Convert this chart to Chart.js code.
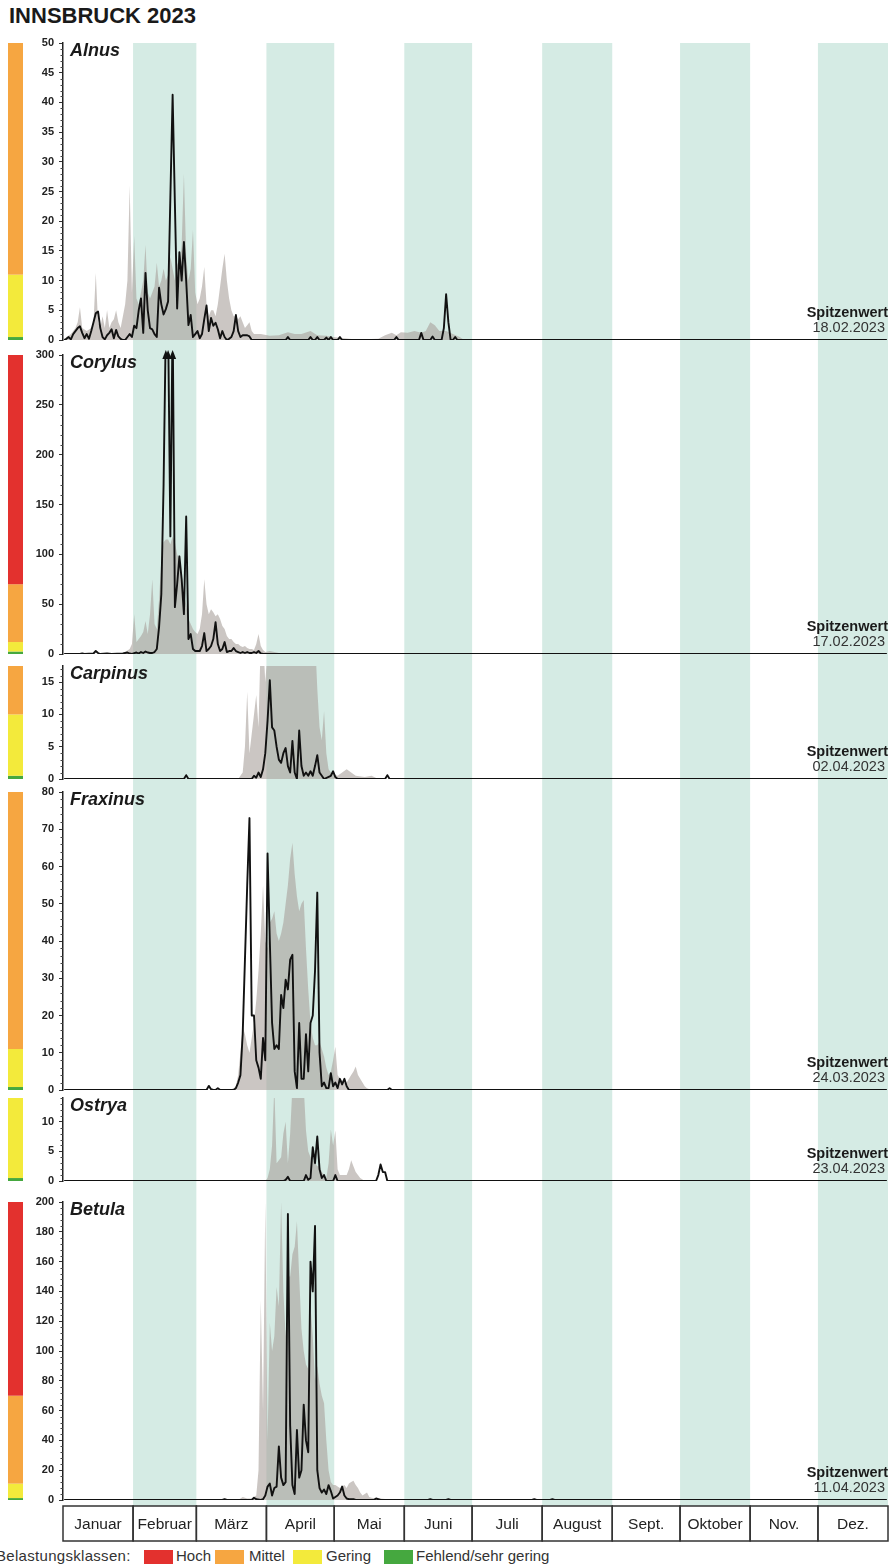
<!DOCTYPE html>
<html>
<head>
<meta charset="utf-8">
<script src="https://cdn.jsdelivr.net/npm/chart.js@4.4.0/dist/chart.umd.min.js"></script>
<style>
  body { margin: 0; width: 893px; height: 1567px; position: relative; overflow: hidden; background: #fff;
         font-family: "Liberation Sans", Arial, sans-serif; }
  #title { position: absolute; left: 9px; top: 3px; font-size: 22px; font-weight: bold; color: #1a1a1a; }
  canvas { position: absolute; left: 0; }
  .lg { position: absolute; top: 1547px; font-size: 15px; color: #333; white-space: nowrap; }
  .sw { position: absolute; top: 1550px; width: 29px; height: 14px; }
</style>
</head>
<body>
<div id="title">INNSBRUCK 2023</div>

<div class="lg" style="left:-4px;letter-spacing:0.3px">Belastungsklassen:</div>
<div class="sw" style="left:144px;background:#e3312e"></div><div class="lg" style="left:176px">Hoch</div>
<div class="sw" style="left:215px;background:#f6a641"></div><div class="lg" style="left:249px">Mittel</div>
<div class="sw" style="left:293px;background:#f3ea3b"></div><div class="lg" style="left:326px">Gering</div>
<div class="sw" style="left:384px;background:#45a83f"></div><div class="lg" style="left:416px">Fehlend/sehr gering</div>

<script>
// x = day of year 2023, y = pollen per m³ (daily mean)
const months = ['Januar', 'Februar', 'März', 'April', 'Mai', 'Juni', 'Juli', 'August', 'Sept.', 'Oktober', 'Nov.', 'Dez.'];
const monthStartDay = [1, 32, 60, 91, 121, 152, 182, 213, 244, 274, 305, 335];
const species = ['Alnus', 'Corylus', 'Carpinus', 'Fraxinus', 'Ostrya', 'Betula'];
const peakDates = ['18.02.2023', '17.02.2023', '02.04.2023', '24.03.2023', '23.04.2023', '11.04.2023'];
const yMax = [50, 300, 17.5, 80, 14, 200];
const yStep = [5, 50, 5, 10, 5, 20];
const yMinorStep = [1, 10, 1, 2, 1, 4];
// upper limits of the classes Fehlend, Gering, Mittel, Hoch
const classLimits = [
  [0.5, 11, 50, 50],
  [2.5, 12, 70, 300],
  [0.5, 10, 17.5, 17.5],
  [0.8, 11, 80, 80],
  [0.5, 14, 14, 14],
  [1.3, 11, 70, 200]
];
const classColors = ['#45a83f', '#f3ea3b', '#f6a641', '#e3312e'];

// 2023 (black line)
const alnus2023 = [[1,0],[2,0.2],[3,0.5],[4,0.1],[5,1],[6,1.5],[7,2],[8,2.3],[9,1.2],[10,0.3],[11,1],[12,0.2],[13,1.5],[14,3],[15,4.5],[16,4.8],[17,2],[18,0.5],[19,0.1],[20,0.8],[21,1.2],[22,1.8],[23,0.3],[24,1.7],[25,0.6],[26,0.2],[27,0],[28,0],[29,0.5],[30,1],[31,0.5],[32,2.4],[33,2],[34,5],[35,7],[36,1.2],[37,11.3],[38,5],[39,2],[40,1.8],[41,1],[42,0.5],[43,8.8],[44,6],[45,4.3],[46,5.2],[47,6.5],[48,24],[49,41.3],[50,23],[51,5.3],[52,14.8],[53,10],[54,16.5],[55,10],[56,2.5],[57,4.2],[58,0.5],[59,1],[60,1.5],[61,0.3],[62,1],[63,3.5],[64,5.8],[65,1.5],[66,3.7],[67,2.4],[68,2.9],[69,1.8],[70,0.3],[71,1.5],[72,0.5],[73,0],[74,0.2],[75,0.5],[76,1.5],[77,4.2],[78,1.5],[79,0.5],[80,0.8],[81,0.8],[82,0.8],[83,0.6],[84,0],[99,0],[100,0.5],[101,0],[109,0],[110,0.5],[111,0],[112,0],[113,0.5],[114,0],[116,0],[117,0.4],[118,0],[119,0.5],[120,0],[122,0],[123,0.5],[124,0],[147,0],[148,0.5],[149,0],[158,0],[159,1.2],[160,0],[163,0],[164,0.6],[165,0],[168,0],[169,2],[170,7.7],[171,3],[172,0],[173,0],[174,0.5],[175,0],[365,0]];
const corylus2023 = [[1,0],[8,0],[9,0.5],[10,0],[14,0.5],[15,3],[16,1],[17,0],[20,0.5],[22,0],[27,0.5],[29,1.5],[30,0.5],[31,0],[33,1.5],[34,0.5],[35,2],[36,1],[37,2.5],[38,1.5],[39,1],[40,1],[41,2],[42,5],[43,27],[44,60],[45,170],[46,330],[47,330],[48,118],[49,340],[50,47],[51,70],[52,98],[53,75],[54,40],[55,138],[56,15],[57,20],[58,5],[59,3],[60,3],[61,3],[62,8],[63,21],[64,3],[65,5],[66,8],[67,15],[68,32],[69,10],[70,3],[71,5],[72,12],[73,2],[74,3],[75,3],[76,6],[77,3],[78,2],[79,1],[80,2],[81,1],[82,2],[83,1],[84,1],[85,2],[86,1],[87,3],[88,0.5],[89,0],[365,0]];
const carpinus2023 = [[1,0],[54,0],[55,0.6],[56,0],[84,0],[85,0.5],[86,0.2],[87,1],[88,0.3],[89,1.5],[90,4],[91,9],[92,15.3],[93,8],[94,7.5],[95,5],[96,3],[97,2.5],[98,4],[99,4.8],[100,2],[101,1],[102,5.9],[103,1],[104,0],[105,7.5],[106,2],[107,0.5],[108,1],[109,0.5],[110,1.2],[111,0.5],[112,2],[113,3.7],[114,1],[115,0.5],[116,0],[119,0.5],[120,1.2],[121,0.3],[122,0],[143,0],[144,0.6],[145,0],[365,0]];
const fraxinus2023 = [[1,0],[64,0],[65,1.1],[66,0.2],[67,0],[68,0],[69,0.5],[70,0],[76,0],[77,0.5],[78,2],[79,4],[80,15],[81,35],[82,55],[83,73],[84,20],[85,20],[86,8],[87,6],[88,3],[89,14],[90,8],[91,63.5],[92,40],[93,18],[94,11],[95,12],[96,11],[97,25.5],[98,22],[99,29.6],[100,27],[101,35],[102,36.3],[103,5],[104,0.5],[105,18],[106,3],[107,3],[108,15],[109,5],[110,18],[111,20],[112,32],[113,53],[114,10],[115,1],[116,2],[117,0.5],[118,0.5],[119,4.5],[120,1],[121,2],[122,0.5],[123,3],[124,1.5],[125,3],[126,1],[127,0],[144,0],[145,0.5],[146,0],[365,0]];
const ostrya2023 = [[1,0],[98,0],[99,0.2],[100,0.7],[101,0],[107,0],[108,1],[109,0.2],[110,0.5],[111,5.7],[112,3],[113,7.5],[114,2],[115,0.5],[116,1],[117,0],[120,0],[121,1],[122,0],[139,0],[140,1],[141,2.8],[142,1.5],[143,1.5],[144,0],[365,0]];
const betula2023 = [[1,0],[71,0],[72,0.5],[73,0],[84,0],[85,1.5],[86,0.5],[88,0],[89,0.5],[90,3],[91,9],[92,11],[93,3],[94,8],[95,9],[96,36],[97,15],[98,10],[99,12],[100,192],[101,50],[102,10],[103,4],[104,47],[105,15],[106,20],[107,64],[108,40],[109,32],[110,160],[111,140],[112,184],[113,20],[114,8],[115,5],[116,7],[117,4],[118,10],[119,6],[120,1],[121,2],[122,3],[123,5],[124,9],[125,3],[126,1],[127,0.5],[129,0.5],[130,0],[138,0],[139,1],[140,0.5],[141,0],[162,0],[163,0.5],[164,0],[170,0],[171,0.5],[172,0],[208,0],[209,0.5],[210,0],[216,0],[217,0.5],[218,0],[365,0]];

// long-term mean (grey area)
const alnusMean = [[1,0],[2,0.5],[4,1],[6,2],[7,3],[8,5.5],[9,2],[11,1.5],[13,2],[14,3],[15,11.3],[16,3],[17,2],[18,4],[19,2],[20,5],[21,2],[22,3],[23,3.5],[24,5],[25,3],[26,2],[27,4],[28,6],[29,10],[30,26],[31,8],[32,17.5],[33,7],[34,6],[35,8],[36,10],[37,16],[38,8],[39,7],[40,8],[41,9],[42,13],[43,9],[44,10],[45,12],[46,10],[47,11],[48,14],[49,12],[50,10],[51,13],[52,12],[53,16],[54,28],[55,14],[56,10],[57,12],[58,18.5],[59,8],[60,6],[61,7],[62,9],[63,12.3],[64,6],[65,4],[66,5],[67,5],[68,4],[69,6],[70,9],[71,12],[72,14.5],[73,10],[74,7],[75,5],[76,4],[77,4],[78,3.5],[79,4],[80,3],[81,2],[82,2.5],[83,3],[84,1.5],[85,1],[88,1],[92,0.7],[96,0.8],[100,1.3],[103,1],[106,1],[110,1.5],[113,0.8],[117,0.7],[120,0.5],[125,0.3],[130,0.1],[140,0.2],[143,0.8],[146,1.2],[148,0.8],[150,1.3],[153,1.2],[156,1.5],[159,1.2],[161,1.5],[163,3],[165,2.5],[167,1.5],[170,1.5],[173,1],[176,0.5],[178,0],[365,0]];
const corylusMean = [[1,0],[27,0],[28,2],[30,5],[31,10],[32,40],[33,12],[34,15],[35,18],[36,22],[37,33],[38,20],[39,40],[40,75],[41,30],[42,25],[43,55],[44,95],[45,112],[46,115],[47,115],[48,110],[49,118],[50,112],[51,100],[52,95],[53,80],[54,60],[55,50],[56,35],[57,30],[58,25],[59,22],[60,20],[61,25],[62,40],[63,75],[64,50],[65,40],[66,45],[67,42],[68,38],[69,40],[70,35],[71,28],[72,25],[73,18],[74,15],[75,15],[76,12],[77,10],[78,10],[79,8],[80,7],[81,8],[82,6],[83,5],[84,5],[85,4],[86,10],[87,20],[88,8],[89,4],[90,2],[92,3],[94,2],[96,1],[100,1],[105,0.5],[110,0.3],[115,0],[365,0]];
const carpinusMean = [[1,0],[78,0],[79,0.5],[80,1],[81,5],[82,13.5],[83,4],[84,7],[85,10],[86,13],[87,8],[88,22],[89,22],[90,15],[91,20],[92,25],[94,26],[96,25],[98,27],[100,26],[102,24],[104,25],[106,27],[108,26],[110,24],[112,22],[113,14],[114,8],[115,6],[116,10.5],[117,4],[118,1.5],[119,1],[120,0.8],[122,0.5],[124,1],[126,1.5],[128,1],[130,0.5],[134,0.3],[137,0.5],[140,0],[365,0]];
const fraxinusMean = [[1,0],[74,0],[76,0.5],[77,1],[78,4],[79,10],[80,17],[81,15],[82,12],[83,10],[84,14],[85,18],[86,24],[87,32],[88,42],[89,55],[90,40],[91,38],[92,45],[93,46],[94,48],[95,42],[96,40],[97,42],[98,45],[99,50],[100,55],[101,62],[102,66.4],[103,58],[104,52],[105,48],[106,50],[107,51],[108,38],[109,27],[110,18],[111,14],[112,12],[113,12],[114,13],[115,11],[116,9],[117,6],[118,4],[119,5],[120,8],[121,11.6],[122,4],[123,3],[124,2.5],[125,2],[126,2],[127,3],[128,4],[129,5],[130,6.3],[131,4],[132,3],[133,2],[134,1],[135,0.5],[137,0],[365,0]];
const ostryaMean = [[1,0],[90,0],[91,0.5],[92,2],[93,6],[94,16],[95,3],[96,3.5],[97,4],[98,8],[99,10],[100,3],[101,8],[102,16],[103,18],[104,20],[105,18],[106,16],[107,16],[108,8.5],[109,5],[110,4],[111,3.5],[112,3],[113,2.5],[114,2.5],[115,1.5],[116,1],[117,0.5],[118,3],[119,8.7],[120,6],[121,8.5],[122,2],[123,1],[124,1],[125,1],[126,1],[127,2],[128,3.5],[129,2.5],[130,1.5],[131,1],[132,0.5],[134,0],[365,0]];
const betulaMean = [[1,0],[69,0],[70,0.5],[71,0],[78,0],[80,2],[82,1],[84,1],[85,2],[86,3],[87,20],[88,134],[89,60],[90,200],[91,40],[92,119],[93,100],[94,110],[95,143],[96,130],[97,200],[98,140],[99,110],[100,150],[101,150],[102,165],[103,170],[104,187],[105,150],[106,115],[107,100],[108,91],[109,88],[110,130],[111,110],[112,80],[113,90],[114,78],[115,70],[116,65],[117,40],[118,20],[119,12],[120,10],[121,10],[122,9],[123,8],[124,9],[125,10],[126,8],[127,11],[128,12],[129,13],[130,10],[131,8],[132,5],[133,3],[134,4],[135,5],[136,2],[137,1.5],[139,1],[141,1],[144,0.5],[148,0],[365,0]];

const lines = [alnus2023, corylus2023, carpinus2023, fraxinus2023, ostrya2023, betula2023];
const means = [alnusMean, corylusMean, carpinusMean, fraxinusMean, ostryaMean, betulaMean];

// page layout of the six panels
const canvasTop = [36, 347, 660, 785, 1094, 1190];
const canvasH = [311, 313, 125, 309, 96, 356];
const padTop = [7, 8, 6, 7, 4, 12];
const padBottom = [7, 6, 6, 4, 9, 46];

const FONT = "'Liberation Sans', Arial, sans-serif";
const BAND = '#d5ebe4';

function pts(pairs) {
  return pairs.map(p => ({ x: p[0], y: p[1] }));
}

function monthEdge(xs, area, m) {
  return m > 11 ? area.right : xs.getPixelForValue(monthStartDay[m] - 0.5);
}

const panelPlugin = {
  id: 'panel',
  beforeDraw(chart, args, opts) {
    const i = opts.index;
    const { ctx, chartArea: a } = chart;
    const xs = chart.scales.x;
    const top = i === 0 ? a.top : 0;
    const bottom = i === 5 ? a.bottom + 6 : chart.height;
    ctx.save();
    ctx.fillStyle = BAND;
    for (let m = 1; m < 12; m += 2) {
      const x0 = monthEdge(xs, a, m), x1 = monthEdge(xs, a, m + 1);
      ctx.fillRect(x0, top, x1 - x0, bottom - top);
    }
    ctx.restore();
  },
  afterDraw(chart, args, opts) {
    const i = opts.index;
    const { ctx, chartArea: a } = chart;
    const xs = chart.scales.x, ys = chart.scales.y;
    ctx.save();

    // Belastungsklassen bar
    let lo = 0;
    classLimits[i].forEach((hi, k) => {
      if (hi > lo) {
        const y0 = ys.getPixelForValue(lo), y1 = ys.getPixelForValue(hi);
        ctx.fillStyle = classColors[k];
        ctx.fillRect(8, y1, 15, y0 - y1);
      }
      lo = hi;
    });

    // minor ticks
    ctx.strokeStyle = '#444';
    ctx.lineWidth = 1;
    for (let v = 0; v <= yMax[i] + 1e-9; v += yMinorStep[i]) {
      if (Math.abs(v / yStep[i] - Math.round(v / yStep[i])) < 1e-6) continue;
      const y = Math.round(ys.getPixelForValue(v)) + 0.5;
      ctx.beginPath();
      ctx.moveTo(a.left - 2.5, y);
      ctx.lineTo(a.left, y);
      ctx.stroke();
    }

    // arrows for values above the scale
    ctx.fillStyle = '#111';
    lines[i].forEach(p => {
      if (p[1] > yMax[i]) {
        const x = xs.getPixelForValue(p[0]);
        ctx.beginPath();
        ctx.moveTo(x, a.top - 5);
        ctx.lineTo(x - 3.5, a.top + 4);
        ctx.lineTo(x + 3.5, a.top + 4);
        ctx.closePath();
        ctx.fill();
      }
    });

    // species name
    ctx.fillStyle = '#1a1a1a';
    ctx.font = 'italic bold 18px ' + FONT;
    ctx.textAlign = 'left';
    ctx.textBaseline = 'middle';
    ctx.fillText(species[i], 70, a.top + 8);

    // peak date
    ctx.textAlign = 'right';
    ctx.textBaseline = 'alphabetic';
    ctx.font = 'bold 14.5px ' + FONT;
    ctx.fillText('Spitzenwert', a.right, a.bottom - 23);
    ctx.fillStyle = '#333';
    ctx.font = '14.5px ' + FONT;
    ctx.fillText(peakDates[i], a.right - 3, a.bottom - 8);

    // month boxes below the last panel
    if (i === 5) {
      const y0 = a.bottom + 6, y1 = a.bottom + 41;
      ctx.strokeStyle = '#333';
      ctx.lineWidth = 1.5;
      ctx.font = '15.5px ' + FONT;
      ctx.textAlign = 'center';
      ctx.textBaseline = 'middle';
      ctx.fillStyle = '#222';
      for (let m = 0; m < 12; m++) {
        const x0 = monthEdge(xs, a, m), x1 = monthEdge(xs, a, m + 1);
        ctx.strokeRect(x0, y0, x1 - x0, y1 - y0);
        ctx.fillText(months[m], (x0 + x1) / 2, (y0 + y1) / 2 + 1);
      }
    }
    ctx.restore();
  }
};

species.forEach((name, i) => {
  const cv = document.createElement('canvas');
  cv.width = 893;
  cv.height = canvasH[i];
  cv.style.top = canvasTop[i] + 'px';
  document.body.appendChild(cv);

  new Chart(cv.getContext('2d'), {
    type: 'line',
    data: {
      datasets: [{
        label: name + ' 2023',
        data: pts(lines[i]),
        borderColor: '#111',
        borderWidth: 1.9,
        borderJoinStyle: 'round',
        pointRadius: 0,
        fill: false,
        tension: 0,
        order: 0
      }, {
        label: name + ' Mittel',
        data: pts(means[i]),
        borderWidth: 0,
        backgroundColor: 'rgba(168,160,155,0.6)',
        pointRadius: 0,
        fill: 'origin',
        tension: 0,
        order: 1
      }]
    },
    options: {
      responsive: false,
      animation: false,
      events: [],
      layout: { autoPadding: false, padding: { top: padTop[i], bottom: padBottom[i], left: 0, right: 5 } },
      plugins: { legend: { display: false }, tooltip: { enabled: false }, panel: { index: i } },
      scales: {
        x: { type: 'linear', min: 0.5, max: 365.5, display: false },
        y: {
          min: 0,
          max: yMax[i],
          afterFit: s => { s.width = 63; s.paddingTop = 0; s.paddingBottom = 0; },
          afterBuildTicks: s => { s.ticks = s.ticks.filter(t => t.value % yStep[i] === 0); },
          ticks: { stepSize: yStep[i], color: '#222', padding: 5, font: { family: FONT, size: 11, weight: 'bold' } },
          grid: { drawOnChartArea: false, tickLength: 4, color: '#333' },
          border: { color: '#222', width: 1.5 }
        }
      }
    },
    plugins: [panelPlugin]
  });
});
</script>
</body>
</html>
